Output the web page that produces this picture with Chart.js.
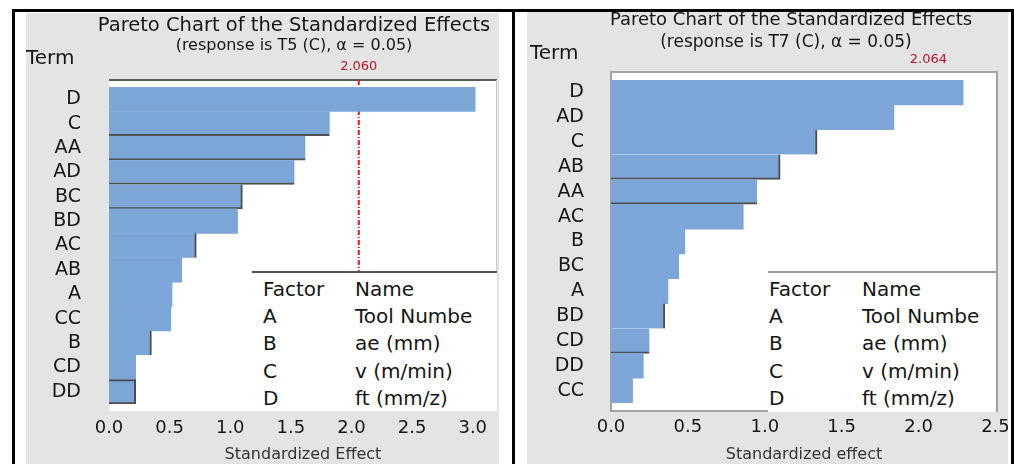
<!DOCTYPE html>
<html>
<head>
<meta charset="utf-8">
<script src="https://cdn.jsdelivr.net/npm/chart.js@4.4.1/dist/chart.umd.min.js"></script>
<style>
  body { margin: 0; width: 1014px; height: 464px; background: #fff; position: relative; overflow: hidden;
         font-family: "DejaVu Sans", sans-serif; color: #151515; }
  .frame { position: absolute; left: 12px; top: 9px; width: 996px; height: 470px; border: 3px solid #000; border-bottom: none; }
  .mid { position: absolute; left: 512px; top: 9px; width: 3px; height: 470px; background: #000; }
  .panel { position: absolute; background: #e4e4e4; }
  .panel canvas { position: absolute; left: 0; top: 0; }
  .t { position: absolute; white-space: nowrap; line-height: 1; }
  .c { transform: translate(-50%, -50%); }
  .v { transform: translateY(-50%); }
  .legend { position: absolute; background: #fff; }
  .legend div { position: absolute; white-space: nowrap; line-height: 1; font-size: 20px; transform: translateY(-50%); }
</style>
</head>
<body>
<div class="frame"></div>
<div class="mid"></div>

<div class="panel" style="left:26px;top:13px;width:473px;height:451px;">
  <canvas id="chartT5" width="473" height="451"></canvas>
</div>
<div class="panel" style="left:527px;top:12px;width:481px;height:452px;">
  <canvas id="chartT7" width="481" height="452"></canvas>
</div>

<!-- left chart texts -->
<div class="t c" style="left:294px;top:25px;font-size:19.5px;">Pareto Chart of the Standardized Effects</div>
<div class="t c" style="left:294px;top:45px;font-size:16px;">(response is T5 (C), α = 0.05)</div>
<div class="t v" style="left:26px;top:57px;font-size:20px;">Term</div>
<div class="legend" id="legT5" style="left:252px;top:271px;width:245px;height:138px;border-top:2px solid #555;"></div>

<!-- right chart texts -->
<div class="t c" style="left:791px;top:19px;font-size:18px;">Pareto Chart of the Standardized Effects</div>
<div class="t c" style="left:786px;top:41px;font-size:17px;">(response is T7 (C), α = 0.05)</div>
<div class="t v" style="left:530px;top:52px;font-size:20px;">Term</div>
<div class="legend" id="legT7" style="left:768px;top:271px;width:228px;height:139px;border-top:2px solid #9a9a9a;"></div>

<script>
// left chart: response T5
const termsT5 = ['D', 'C', 'AA', 'AD', 'BC', 'BD', 'AC', 'AB', 'A', 'CC', 'B', 'CD', 'DD'];
const effectsT5 = [3.02, 1.82, 1.62, 1.53, 1.10, 1.06, 0.72, 0.60, 0.52, 0.51, 0.35, 0.22, 0.22];
const critT5 = 2.060;

// right chart: response T7
const termsT7 = ['D', 'AD', 'C', 'AB', 'AA', 'AC', 'B', 'BC', 'A', 'BD', 'CD', 'DD', 'CC'];
const effectsT7 = [2.29, 1.84, 1.34, 1.10, 0.95, 0.86, 0.48, 0.44, 0.37, 0.35, 0.25, 0.21, 0.14];
const critT7 = 2.064;

// factor table shown inside both plots
const factorCodes = ['A', 'B', 'C', 'D'];
const factorNamesT5 = ['Tool Numbe', 'ae (mm)', 'v (m/min)', 'ft (mm/z)'];
const factorNamesT7 = ['Tool Numbe', 'ae (mm)', 'v (m/min)', 'ft (mm/z)'];

// dark edges seen on some bars in the scan
const edgesT5 = ['', 'b', 'b', 'b', 'br', '', 'r', '', '', '', 'r', '', 'tbr'];
const edgesT7 = ['', '', 'r', 'br', 'b', '', '', '', '', 'r', 'b', '', ''];

function edgeWidths(list) {
    return list.map(e => ({
        top: e.includes('t') ? 2 : 0,
        right: e.includes('r') ? 2 : 0,
        bottom: e.includes('b') ? 2 : 0,
        left: 0
    }));
}

function fillLegend(id, names, nameLeft, codeLeft) {
    let el = document.getElementById(id);
    let rows = [['Factor', 'Name']];
    for (let i = 0; i < factorCodes.length; i++) {
        rows.push([factorCodes[i], names[i]]);
    }
    let html = '';
    for (let i = 0; i < rows.length; i++) {
        let y = 16 + i * 27.2;
        html += '<div style="left:' + codeLeft + 'px;top:' + y + 'px">' + rows[i][0] + '</div>';
        html += '<div style="left:' + nameLeft + 'px;top:' + y + 'px">' + rows[i][1] + '</div>';
    }
    el.innerHTML = html;
}
fillLegend('legT5', factorNamesT5, 103, 11);
fillLegend('legT7', factorNamesT7, 94, 1);

// white plot region with the Minitab style frame, plus the critical value line
const plotFrame = {
    id: 'plotFrame',
    beforeDatasetsDraw(chart, args, opts) {
        const {ctx, chartArea, scales} = chart;
        const top = chartArea.top - opts.pad;
        const bottom = chartArea.bottom + opts.pad;
        ctx.save();
        ctx.fillStyle = '#fff';
        ctx.fillRect(chartArea.left, top, chartArea.right - chartArea.left, bottom - top);
        ctx.lineWidth = 2;
        if (opts.box) {
            ctx.strokeStyle = '#a3a3a3';
            ctx.strokeRect(chartArea.left, top, chartArea.right - chartArea.left, bottom - top);
        } else {
            ctx.strokeStyle = '#5a5a5a';
            ctx.beginPath();
            ctx.moveTo(chartArea.left, top);
            ctx.lineTo(chartArea.right, top);
            ctx.stroke();
            ctx.strokeStyle = '#c8c8c8';
            ctx.lineWidth = 1;
            ctx.beginPath();
            ctx.moveTo(chartArea.right - 0.5, top);
            ctx.lineTo(chartArea.right - 0.5, bottom);
            ctx.stroke();
        }
        const x = scales.x.getPixelForValue(opts.crit);
        if (opts.showLine) {
            ctx.strokeStyle = '#e8141b';
            ctx.lineWidth = 2;
            ctx.setLineDash([5, 2, 1, 2]);
            ctx.beginPath();
            ctx.moveTo(x, top);
            ctx.lineTo(x, bottom);
            ctx.stroke();
            ctx.setLineDash([]);
        }
        ctx.fillStyle = '#c0102a';
        ctx.font = '13px "DejaVu Sans"';
        ctx.textAlign = 'center';
        ctx.textBaseline = 'middle';
        ctx.fillText(opts.crit.toFixed(3), x, top - opts.labelGap);
        ctx.restore();
    }
};

function makeChart(id, terms, effects, edges, cfg) {
    const ctx = document.getElementById(id).getContext('2d');
    return new Chart(ctx, {
        type: 'bar',
        data: {
            labels: terms,
            datasets: [{
                data: effects,
                backgroundColor: '#7ca6d8',
                borderColor: '#4d4d4d',
                borderWidth: edgeWidths(edges),
                borderSkipped: false,
                categoryPercentage: 1,
                barPercentage: 1
            }]
        },
        options: {
            indexAxis: 'y',
            responsive: false,
            animation: false,
            devicePixelRatio: 1,
            layout: {
                padding: {top: cfg.top, right: cfg.right, left: 0, bottom: 0}
            },
            plugins: {
                legend: {display: false},
                tooltip: {enabled: false},
                plotFrame: {pad: cfg.pad, box: cfg.box, crit: cfg.crit, showLine: cfg.showLine, labelGap: cfg.labelGap}
            },
            scales: {
                x: {
                    type: 'linear',
                    min: 0,
                    max: cfg.xMax,
                    afterFit: s => {
                        s.height = cfg.xHeight;
                        s.paddingLeft = 0;
                        s.paddingRight = 0;
                    },
                    grid: {display: false, drawTicks: false},
                    border: {display: false},
                    ticks: {
                        stepSize: 0.5,
                        includeBounds: false,
                        padding: 14,
                        color: '#151515',
                        font: {family: '"DejaVu Sans"', size: 18},
                        callback: v => v.toFixed(1)
                    },
                    title: {
                        display: true,
                        text: cfg.xTitle,
                        color: '#333',
                        font: {family: '"DejaVu Sans"', size: 16},
                        padding: {top: 0, bottom: 0}
                    }
                },
                y: {
                    type: 'category',
                    afterFit: s => { s.width = cfg.left; },
                    grid: {display: false, drawTicks: false},
                    border: {display: false},
                    ticks: {
                        autoSkip: false,
                        padding: cfg.tickPad,
                        color: '#151515',
                        font: {family: '"DejaVu Sans"', size: 19}
                    }
                }
            }
        },
        plugins: [plotFrame]
    });
}

makeChart('chartT5', termsT5, effectsT5, edgesT5, {
    top: 74, right: 2, left: 83, xHeight: 60, xMax: 3.2, pad: 7, box: false,
    crit: critT5, showLine: true, labelGap: 13, tickPad: 28, xTitle: 'Standardized Effect'
});
makeChart('chartT7', termsT7, effectsT7, edgesT7, {
    top: 68, right: 11, left: 84, xHeight: 61, xMax: 2.51, pad: 8, box: true,
    crit: critT7, showLine: false, labelGap: 12, tickPad: 27, xTitle: 'Standardized effect'
});
</script>
</body>
</html>
